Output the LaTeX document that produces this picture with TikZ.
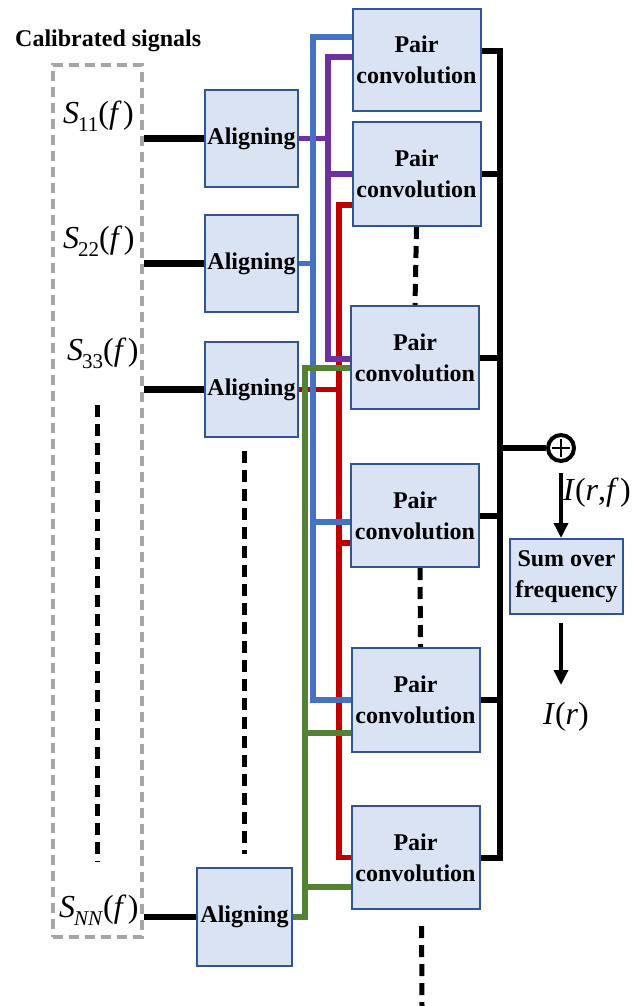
\documentclass[tikz,border=0pt]{standalone}
\usepackage{fontspec}
\setmainfont{Liberation Serif}
\usetikzlibrary{arrows.meta,calc}

\definecolor{boxfill}{HTML}{DAE3F3}
\definecolor{boxedge}{HTML}{2F5597}
\definecolor{frame}{HTML}{A6A6A6}
\definecolor{lblue}{HTML}{4472C4}
\definecolor{lpurple}{HTML}{7030A0}
\definecolor{lred}{HTML}{C00000}
\definecolor{lgreen}{HTML}{548235}

% signal label S_{ij}(f)
\newcommand{\Sig}[1]{{\fontsize{32}{32}\selectfont\textit{S}\kern-1pt\raisebox{-8pt}{\fontsize{21}{21}\selectfont #1}(\textit{f}\kern1.5pt)}}

\tikzset{
  blk/.style={draw=boxedge, fill=boxfill, line width=2pt, inner sep=0pt,
    align=center, font={\rmfamily\bfseries\fontsize{24}{31}\selectfont}},
  alignbox/.style={blk, minimum width=93pt, minimum height=97pt},
  pairbox/.style={blk, minimum width=128pt, minimum height=103pt},
  conn/.style={line width=6.5pt, black},
  bus/.style={line width=6pt, black},
  gap/.style={line width=5pt, black, dash pattern=on 12pt off 7pt},
  feed/.style={line width=5.5pt},
  cblue/.style={feed, lblue},
  cpurple/.style={feed, lpurple},
  cred/.style={feed, lred},
  cgreen/.style={feed, lgreen},
  arr/.style={line width=3.5pt, -{Triangle[length=15pt,width=14pt]}},
  sym/.style={inner sep=0pt, font={\rmfamily\fontsize{32}{32}\selectfont}},
}

\begin{document}
\begin{tikzpicture}[x=1pt, y=-1pt]
\useasboundingbox (0,0) rectangle (641,1006);

% input signals
\node[anchor=base west, inner sep=0pt, font={\rmfamily\bfseries\fontsize{24}{31}\selectfont}] (title) at (15,47) {Calibrated signals};
\node[draw=frame, line width=3.5pt, dash pattern=on 10pt off 6pt, minimum width=89pt, minimum height=872pt, inner sep=0pt] (sig) at (97.5,501) {};
\node[anchor=base west, inner sep=0pt] (s11) at (63,124) {\Sig{11}};
\node[anchor=base west, inner sep=0pt] (s22) at (63,248) {\Sig{22}};
\node[anchor=base west, inner sep=0pt] (s33) at (67,360) {\Sig{33}};
\node[anchor=base west, inner sep=0pt] (snn) at (59,917) {\Sig{\textit{NN}}};
\coordinate (sgapA) at (97,405);
\coordinate (sgapB) at (97,862);

% aligning stage
\node[alignbox] (al1) at (251.5,138.5) {Aligning};
\node[alignbox] (al2) at (251.5,263.5) {Aligning};
\node[alignbox, minimum height=95pt] (al3) at (251.5,389.5) {Aligning};
\node[alignbox, minimum width=95pt, minimum height=98pt] (aln) at (244.5,917) {Aligning};

% pair convolutions
\node[pairbox, minimum height=102pt] (pc1) at (416.5,60) {Pair\\convolution};
\node[pairbox, minimum height=104pt] (pc2) at (416.5,174) {Pair\\convolution};
\node[pairbox] (pc3) at (415,357.5) {Pair\\convolution};
\node[pairbox] (pc4) at (415,515.5) {Pair\\convolution};
\node[pairbox, minimum height=104pt] (pc5) at (415.5,700) {Pair\\convolution};
\node[pairbox] (pc6) at (415.5,857.5) {Pair\\convolution};
\coordinate (pgapEnd) at (422,1006);

% summation and output
\node[circle, draw, line width=4pt, minimum size=26pt, inner sep=0pt] (plus) at (561,448) {};
\node[blk, minimum width=113pt, minimum height=75pt] (sum) at (566.5,576.5) {Sum over\\frequency};
\node[sym] (irf) at (597,493) {\textit{I}(\textit{r},\textit{f}\kern1.5pt)};
\node[sym] (ir) at (566,717) {\textit{I}(\textit{r})};

% signal inputs
\draw[conn] (al1.west -| sig.east) -- (al1.west);
\draw[conn] (al2.west -| sig.east) -- (al2.west);
\draw[conn] (al3.west -| sig.east) -- (al3.west);
\draw[conn] (aln.west -| sig.east) -- (aln.west);

% omitted rows
\draw[gap] (sgapA) -- (sgapB);
\draw[gap, shorten <=13pt, shorten >=13pt] (aln.north |- al3.south) -- (aln.north);
\draw[gap] (pc2.south) -- (pc3.north);
\draw[gap] ([xshift=5pt]pc4.south) -- ([xshift=5pt]pc5.north);
\draw[gap, shorten <=16pt] ([xshift=6pt]pc6.south) -- (pgapEnd);

% feed rails
\coordinate (xg) at (305,0);
\coordinate (xb) at (313,0);
\coordinate (xp) at (328,0);
\coordinate (xr) at (339,0);
\coordinate (xo) at (500,0);

% red rail: aligning 3
\coordinate (r2) at ([yshift=-31pt]pc2.west);
\coordinate (r4) at ([yshift=-27.5pt]pc4.west);
\draw[cred] (r2) -| (xr |- pc6.west) -- (pc6.west);
\draw[cred] (al3.east) -- (al3.east -| xr);
\draw[cred] (r4) -- (r4 -| xr);

% purple rail: aligning 1
\coordinate (p1) at ([yshift=3pt]pc1.west);
\coordinate (p3) at ([yshift=-1.5pt]pc3.west);
\draw[cpurple] (p1) -| (xp |- p3) -- (p3);
\draw[cpurple] (al1.east) -- (al1.east -| xp);
\draw[cpurple] (pc2.west) -- (pc2.west -| xp);

% blue rail: aligning 2
\coordinate (b1) at ([yshift=23pt]pc1.west);
\coordinate (b4) at ([yshift=-6.5pt]pc4.west);
\draw[cblue] (b1) -| (xb |- pc5.west) -- (pc5.west);
\draw[cblue] (al2.east) -- (al2.east -| xb);
\draw[cblue] (b4) -- (b4 -| xb);

% green rail: aligning N
\coordinate (g3) at ([yshift=-10.5pt]pc3.west);
\coordinate (g5) at ([yshift=-33pt]pc5.west);
\coordinate (g6) at ([yshift=-29.5pt]pc6.west);
\draw[cgreen] (g3) -| (xg |- aln.east) -- (aln.east);
\draw[cgreen] (g5) -- (g5 -| xg);
\draw[cgreen] (g6) -- (g6 -| xg);

% output bus
\coordinate (o1) at ([yshift=9pt]pc1.east);
\draw[bus] (o1) -| (xo |- pc6.east) -- (pc6.east);
\draw[bus] (pc2.east) -- (pc2.east -| xo);
\draw[bus] (pc3.east) -- (pc3.east -| xo);
\draw[bus] (pc4.east) -- (pc4.east -| xo);
\draw[bus] (pc5.east) -- (pc5.east -| xo);
\draw[bus] (plus.west -| xo) -- (plus.west);
\draw[line width=2.4pt] ([xshift=-9pt]plus.center) -- ([xshift=9pt]plus.center);
\draw[line width=2.4pt] ([yshift=-9pt]plus.center) -- ([yshift=9pt]plus.center);

% to the image
\draw[arr, shorten <=10pt] (plus.south) -- (plus.south |- sum.north);
\draw[arr, shorten <=8pt, shorten >=32pt] (plus.south |- sum.south) -- (plus.south |- ir.center);
\end{tikzpicture}
\end{document}
